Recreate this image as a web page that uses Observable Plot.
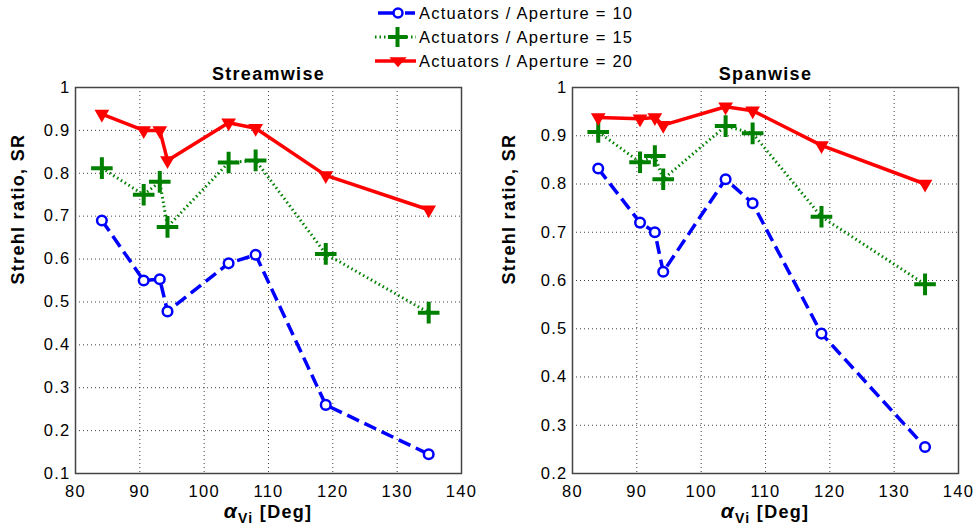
<!DOCTYPE html>
<html><head><meta charset="utf-8">
<script src="https://cdn.jsdelivr.net/npm/d3@7"></script>
<script src="https://cdn.jsdelivr.net/npm/@observablehq/plot@0.6"></script>
<style>
body{margin:0;background:#fff;font-family:"Liberation Sans",Arial,sans-serif}
#wrap{position:relative;width:976px;height:530px;overflow:hidden;background:#fff}
#left{position:absolute;left:0;top:0}
#right{position:absolute;left:488px;top:0}
#legend{position:absolute;left:374px;top:1px;font-size:16.5px;letter-spacing:1.25px;color:#000}
#legend .row{display:flex;align-items:center;height:24px}
#legend svg{margin-right:3px}
</style></head>
<body><div id="wrap"><div id="left"></div><div id="right"></div><div id="legend"></div></div>
<script>
// ---------- data ----------
const seriesNames = ["Actuators / Aperture = 10", "Actuators / Aperture = 15", "Actuators / Aperture = 20"];
const xStream = [84.1, 90.6, 93.1, 94.3, 103.8, 108.0, 118.9, 134.9];
const streamA10 = [0.69, 0.550, 0.553, 0.478, 0.590, 0.610, 0.260, 0.145];
const streamA15 = [0.812, 0.750, 0.780, 0.675, 0.825, 0.830, 0.612, 0.475];
const streamA20 = [0.938, 0.900, 0.900, 0.830, 0.918, 0.905, 0.795, 0.715];
const xSpan = [84.0, 90.5, 92.8, 94.1, 103.8, 108.0, 118.7, 134.8];
const spanA10 = [0.832, 0.720, 0.700, 0.618, 0.810, 0.760, 0.490, 0.255];
const spanA15 = [0.908, 0.845, 0.858, 0.810, 0.920, 0.905, 0.732, 0.592];
const spanA20 = [0.938, 0.935, 0.938, 0.922, 0.960, 0.952, 0.880, 0.800];
const xTicks = [80, 90, 100, 110, 120, 130, 140];
const yTicksStream = [0.1, 0.2, 0.3, 0.4, 0.5, 0.6, 0.7, 0.8, 0.9, 1];
const yTicksSpan = [0.2, 0.3, 0.4, 0.5, 0.6, 0.7, 0.8, 0.9, 1];
const titles = ["Streamwise", "Spanwise"];
const yLabel = "Strehl ratio, SR";

const colors = ["#0000ff", "#008000", "#ff0000"];
const fontFam = '"Liberation Sans", Arial, sans-serif';

function rows(xs, ys) { return xs.map((x, i) => ({x, y: ys[i]})); }

function panel(title, xs, a10, a15, a20, yTicks, ml, mr, ylDx) {
  const W = 488, H = 530, mt = 87, mb = 57;
  const d10 = rows(xs, a10), d15 = rows(xs, a15), d20 = rows(xs, a20);
  const plot = Plot.plot({
    width: W, height: H,
    marginLeft: ml, marginRight: mr, marginTop: mt, marginBottom: mb,
    style: {fontFamily: fontFam, fontSize: "16px", letterSpacing: "1.3px", color: "#000", background: "#fff", overflow: "visible"},
    x: {domain: [80, 140]},
    y: {domain: [yTicks[0], 1]},
    marks: [
      Plot.gridX(xTicks, {stroke: "#222", strokeOpacity: 0.85, strokeWidth: 1, strokeDasharray: "1,3"}),
      Plot.gridY(yTicks, {stroke: "#222", strokeOpacity: 0.85, strokeWidth: 1, strokeDasharray: "1,3"}),
      Plot.axisX({ticks: xTicks, tickSize: 0, tickPadding: 12, label: null, fontSize: 16.5}),
      Plot.axisY({ticks: yTicks, tickSize: 0, tickPadding: 5, label: null, fontSize: 16.5, tickFormat: d3.format("")}),
      Plot.frame({stroke: "#444", strokeWidth: 1.5}),
      Plot.line(d10, {x: "x", y: "y", stroke: colors[0], strokeWidth: 3.5, strokeDasharray: "13,6", strokeLinecap: "butt"}),
      Plot.line(d15, {x: "x", y: "y", stroke: colors[1], strokeWidth: 3, strokeDasharray: "1.5,3", strokeLinecap: "butt"}),
      Plot.line(d20, {x: "x", y: "y", stroke: colors[2], strokeWidth: 3.5}),
      Plot.dot(d10, {x: "x", y: "y", r: 4.8, stroke: colors[0], fill: "white", strokeWidth: 2.5}),
      Plot.dot(d15, {x: "x", y: "y", symbol: "plus", r: 7, stroke: colors[1], strokeWidth: 4, strokeLinecap: "butt"}),
      Plot.dot(d20, {x: "x", y: "y", symbol: "triangle", r: 4.5, rotate: 180, fill: colors[2], stroke: colors[2], strokeWidth: 1.5}),
      Plot.text([title], {frameAnchor: "top", dy: -20, fontWeight: "bold", fontSize: 18}),
      Plot.text([yLabel], {frameAnchor: "left", rotate: -90, dx: ylDx, dy: 4, fontWeight: "bold", fontSize: 18})
    ]
  });
  // x-axis label with Greek alpha and subscript
  const cx = ml + (W - ml - mr) / 2;
  const t = d3.select(plot).append("text")
    .attr("x", cx).attr("y", 518).attr("text-anchor", "middle")
    .attr("font-weight", "bold").attr("font-size", 18).attr("font-family", fontFam).attr("fill", "#000");
  t.append("tspan").text("α").attr("font-style", "italic").attr("font-size", 21);
  t.append("tspan").text("Vi").attr("font-size", 14).attr("dy", 5);
  t.append("tspan").text(" [Deg]").attr("dy", -5);
  return plot;
}

document.getElementById("left").appendChild(panel(titles[0], xStream, streamA10, streamA15, streamA20, yTicksStream, 75, 27, -57));
document.getElementById("right").appendChild(panel(titles[1], xSpan, spanA10, spanA15, spanA20, yTicksSpan, 84, 18, -63));

// legend
const leg = document.getElementById("legend");
const samples = [
  `<line x1="4" y1="12" x2="19" y2="12" stroke="${colors[0]}" stroke-width="3.5"/><line x1="31" y1="12" x2="41" y2="12" stroke="${colors[0]}" stroke-width="3.5"/><circle cx="24" cy="12" r="4.5" fill="white" stroke="${colors[0]}" stroke-width="2.5"/>`,
  `<line x1="1" y1="12" x2="42" y2="12" stroke="${colors[1]}" stroke-width="3" stroke-dasharray="1.5,3"/><line x1="14" y1="12" x2="33" y2="12" stroke="${colors[1]}" stroke-width="4"/><line x1="23.5" y1="2" x2="23.5" y2="22" stroke="${colors[1]}" stroke-width="4"/>`,
  `<line x1="1" y1="12" x2="42" y2="12" stroke="${colors[2]}" stroke-width="3.5"/><path d="M17,9 L31,9 L24,17 Z" fill="${colors[2]}" stroke="${colors[2]}" stroke-width="1.5"/>`
];
seriesNames.forEach((n, i) => {
  const r = document.createElement("div");
  r.className = "row";
  r.innerHTML = `<svg width="42" height="24">${samples[i]}</svg><span>${n}</span>`;
  leg.appendChild(r);
});
</script></body></html>
